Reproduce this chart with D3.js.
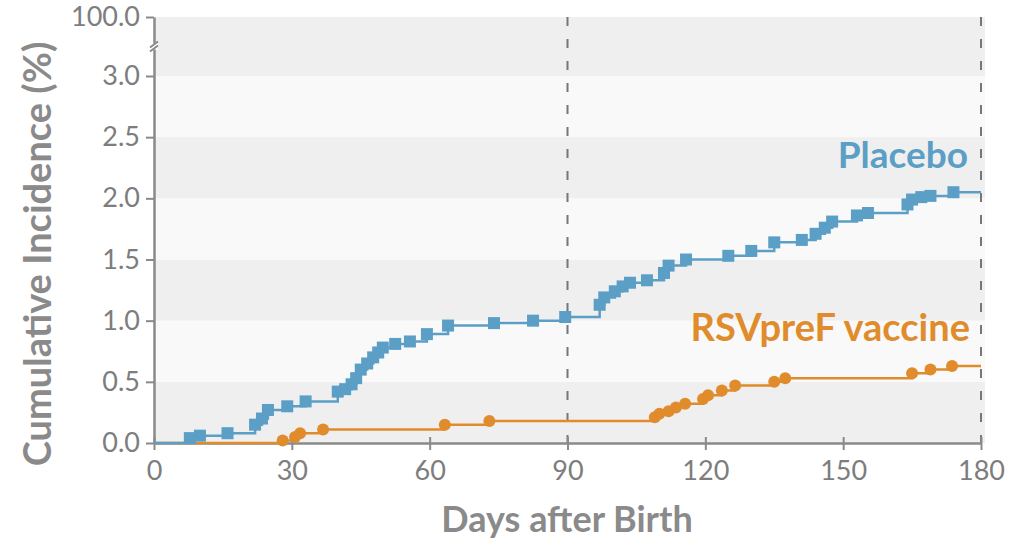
<!DOCTYPE html>
<html>
<head>
<meta charset="utf-8">
<script src="https://cdn.jsdelivr.net/npm/d3@7/dist/d3.min.js"></script>
<style>
  body { margin: 0; background: #fff; }
  svg { display: block; font-family: Lato, "Open Sans", sans-serif; }
</style>
</head>
<body>
<div id="chart"></div>
<script>
// days after birth / cumulative incidence (%) at each event
var placeboDays = [0, 7.8, 10, 16, 22, 23.5, 24.8, 29, 33, 40, 41.6, 43, 44, 45, 46.4, 47.7, 48.8, 49.8, 52.5, 55.7, 59.4, 64, 74, 82.5, 89.5,
	97, 98, 100.3, 102, 103.6, 107.3, 111, 112, 115.8, 125, 130, 135, 141, 144, 146, 147.6, 153, 155.4, 164, 165, 167, 169, 174];
var placeboValues = [0, 0.04, 0.06, 0.08, 0.15, 0.2, 0.27, 0.30, 0.34, 0.42, 0.44, 0.48, 0.53, 0.6, 0.65, 0.7, 0.74, 0.78, 0.81, 0.83, 0.89, 0.96, 0.98, 1.0, 1.03,
	1.13, 1.19, 1.24, 1.28, 1.31, 1.33, 1.39, 1.45, 1.5, 1.53, 1.57, 1.64, 1.66, 1.71, 1.76, 1.81, 1.86, 1.88, 1.95, 1.99, 2.01, 2.02, 2.05];
var vaccineDays = [0, 28, 30.7, 31.8, 36.8, 63.3, 73, 109, 110, 112, 113.6, 115.6, 119.5, 120.6, 123.6, 126.5, 135, 137.4, 165, 169, 173.7];
var vaccineValues = [0, 0.02, 0.05, 0.08, 0.11, 0.15, 0.18, 0.21, 0.24, 0.26, 0.29, 0.32, 0.36, 0.39, 0.43, 0.47, 0.50, 0.53, 0.57, 0.60, 0.63];
var xTicks = [0, 30, 60, 90, 120, 150, 180];
var yTicks = [0, 0.5, 1, 1.5, 2, 2.5, 3, 100];
var endDay = 180;

var width = 1010, height = 545;
var blue = "#5b9fc6", orange = "#e08c2c", grey = "#8a8a8a";

var svg = d3.select("#chart").append("svg")
	.attr("width", width)
	.attr("height", height);

var x = d3.scaleLinear().domain([0, 180]).range([154, 981]);
// broken axis: 0-3 linear, then jump to 100
var y = d3.scaleLinear().domain([0, 3, 100]).range([443, 76, 17]);

// alternating bands
var bands = d3.pairs([0, 0.5, 1, 1.5, 2, 2.5, 3, 100]);
svg.append("g").selectAll("rect")
	.data(bands)
	.join("rect")
	.attr("x", x(0))
	.attr("width", x(180) - x(0) + 4)
	.attr("y", function(d) { return y(d[1]); })
	.attr("height", function(d) { return y(d[0]) - y(d[1]); })
	.attr("fill", function(d, i) { return i % 2 === 0 ? "#efefef" : "#f9f9f9"; });

// dashed reference lines
svg.append("g").selectAll("line")
	.data([90, 180])
	.join("line")
	.attr("x1", function(d) { return x(d); })
	.attr("x2", function(d) { return x(d); })
	.attr("y1", y(100))
	.attr("y2", y(0))
	.attr("stroke", "#777")
	.attr("stroke-width", 2)
	.attr("stroke-dasharray", "9,13");

// x axis
var xAxis = svg.append("g")
	.attr("transform", "translate(0," + y(0) + ")")
	.call(d3.axisBottom(x).tickValues(xTicks).tickSize(8).tickSizeOuter(0).tickPadding(10));

// y axis
var yAxis = svg.append("g")
	.attr("transform", "translate(" + x(0) + ",0)")
	.call(d3.axisLeft(y).tickValues(yTicks).tickSize(8).tickSizeOuter(0).tickPadding(6)
		.tickFormat(d3.format(".1f")));

[xAxis, yAxis].forEach(function(a) {
	a.select(".domain").attr("stroke", grey).attr("stroke-width", 2.5);
	a.selectAll(".tick line").attr("stroke", grey).attr("stroke-width", 2);
	a.selectAll(".tick text").attr("fill", "#7d7d7d").style("font-size", "27px")
		.style("font-family", "Lato, sans-serif");
});
// x ticks straddle the axis
xAxis.selectAll(".tick line").attr("y1", -6).attr("y2", 7);

// axis break mark
var yb = (y(3) + y(100)) / 2;
svg.append("rect").attr("x", x(0) - 4).attr("y", yb - 3).attr("width", 8).attr("height", 6).attr("fill", "#fff");
svg.append("path")
	.attr("d", "M" + (x(0) - 4) + "," + (yb + 5) + "L" + (x(0) + 4) + "," + (yb - 1) +
		"M" + (x(0) - 4) + "," + (yb + 1) + "L" + (x(0) + 4) + "," + (yb - 5))
	.attr("stroke", grey)
	.attr("stroke-width", 2)
	.attr("fill", "none");

function series(days, values) {
	var pts = days.map(function(d, i) { return [d, values[i]]; });
	pts.push([endDay, values[values.length - 1]]);
	return pts;
}

var line = d3.line()
	.x(function(d) { return x(d[0]); })
	.y(function(d) { return y(d[1]); })
	.curve(d3.curveStepAfter);

var vacc = series(vaccineDays, vaccineValues);
var plac = series(placeboDays, placeboValues);

svg.append("path")
	.datum(vacc)
	.attr("fill", "none")
	.attr("stroke", orange)
	.attr("stroke-width", 2.5)
	.attr("d", line);

svg.append("g").selectAll("circle")
	.data(vacc.slice(1, -1))
	.join("circle")
	.attr("cx", function(d) { return x(d[0]); })
	.attr("cy", function(d) { return y(d[1]); })
	.attr("r", 6)
	.attr("fill", orange);

svg.append("path")
	.datum(plac)
	.attr("fill", "none")
	.attr("stroke", blue)
	.attr("stroke-width", 2.5)
	.attr("d", line);

svg.append("g").selectAll("rect")
	.data(plac.slice(1, -1))
	.join("rect")
	.attr("x", function(d) { return x(d[0]) - 6; })
	.attr("y", function(d) { return y(d[1]) - 6; })
	.attr("width", 12)
	.attr("height", 12)
	.attr("fill", blue);

// series labels
svg.append("text")
	.attr("x", 968).attr("y", 168)
	.attr("text-anchor", "end")
	.attr("fill", blue)
	.style("font-size", "37px").style("font-weight", "bold")
	.text("Placebo");

svg.append("text")
	.attr("x", 970).attr("y", 341)
	.attr("text-anchor", "end")
	.attr("fill", orange)
	.style("font-size", "38px").style("font-weight", "bold")
	.text("RSVpreF vaccine");

// axis titles
svg.append("text")
	.attr("x", 567).attr("y", 532)
	.attr("text-anchor", "middle")
	.attr("fill", grey)
	.style("font-size", "36px").style("font-weight", "bold")
	.text("Days after Birth");

svg.append("text")
	.attr("transform", "translate(51,254) rotate(-90)")
	.attr("text-anchor", "middle")
	.attr("fill", grey)
	.style("font-size", "38px").style("font-weight", "bold")
	.text("Cumulative Incidence (%)");
</script>
</body>
</html>
